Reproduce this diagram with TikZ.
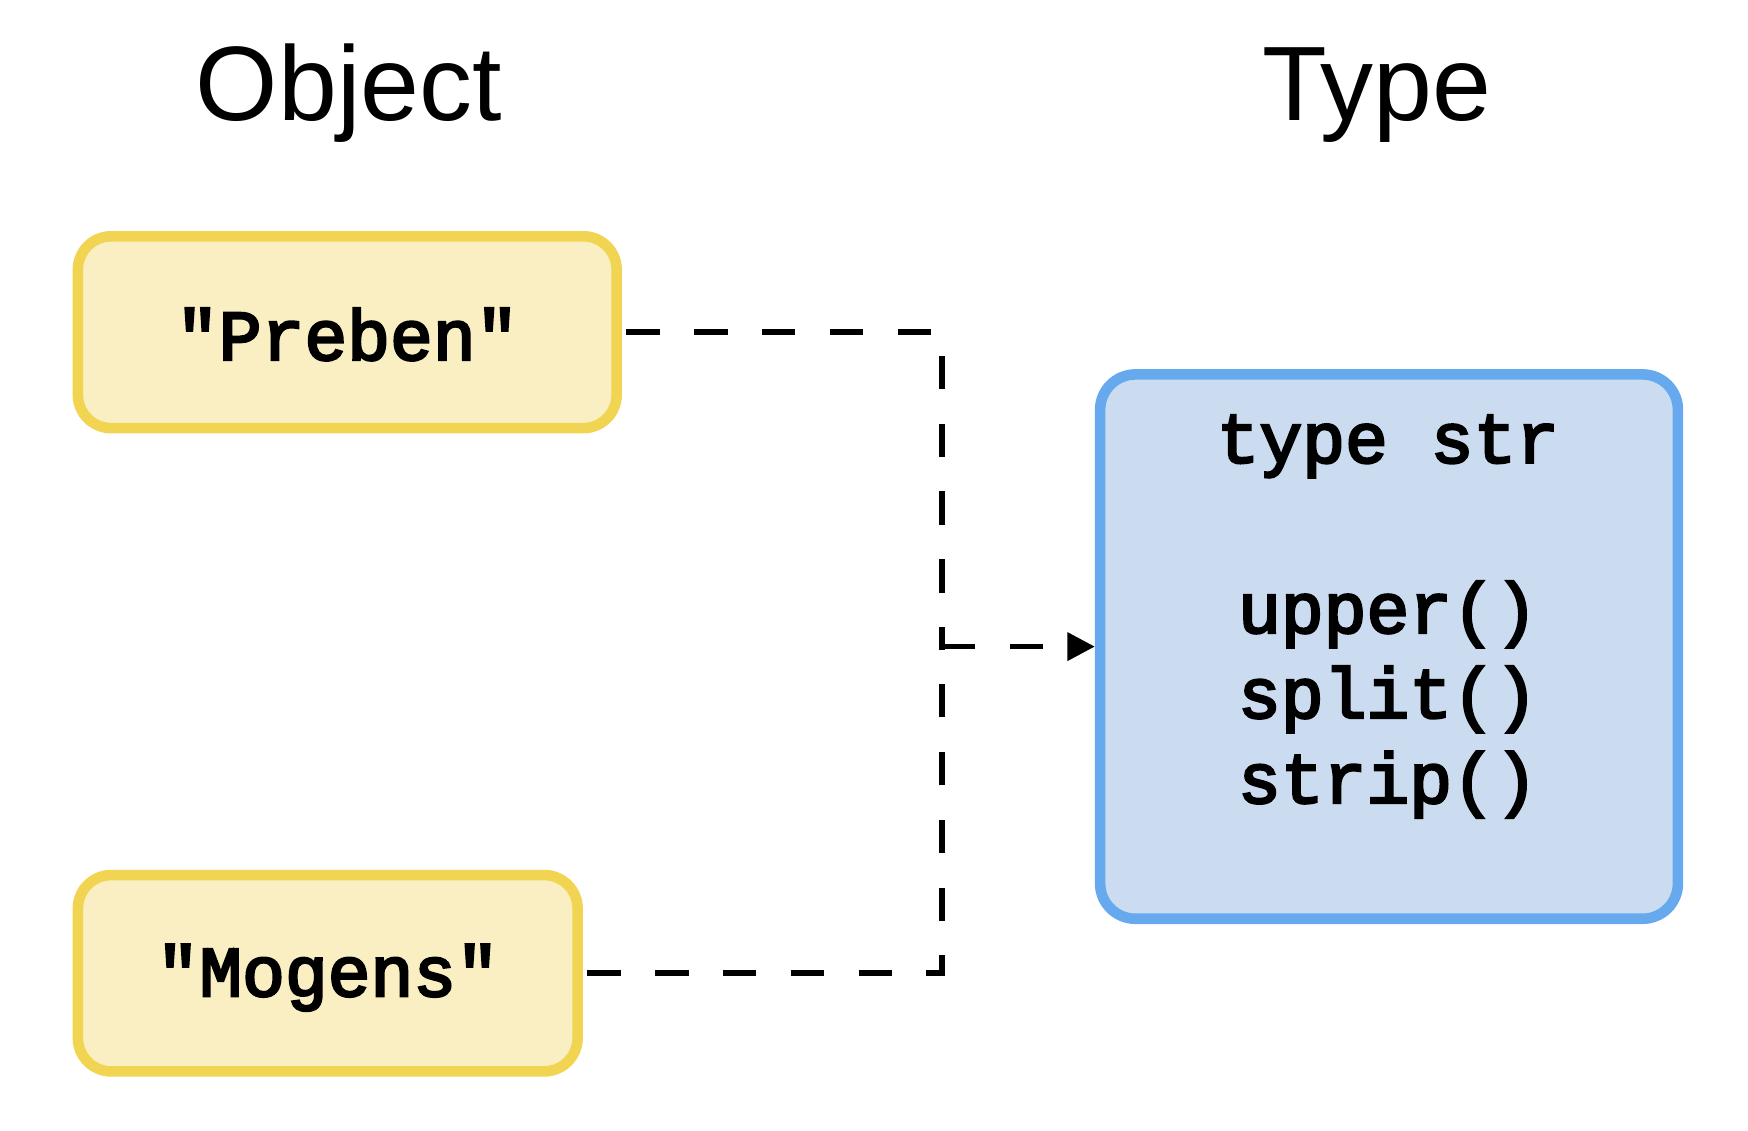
\documentclass[tikz,border=0pt]{standalone}
\usepackage{fontspec}
\setmainfont{Liberation Sans}
\newfontfamily\codefont[FakeBold=3.5]{Liberation Mono}
\usetikzlibrary{arrows.meta}
\definecolor{yfill}{HTML}{FAEFC2}
\definecolor{ydraw}{HTML}{F1D452}
\definecolor{bfill}{HTML}{CBDCF0}
\definecolor{bdraw}{HTML}{67A9EE}
\tikzset{
  objbox/.style={draw=ydraw, fill=yfill, line width=2.7pt, rounded corners=8.5pt, inner sep=0pt},
  typebox/.style={draw=bdraw, fill=bfill, line width=2.7pt, rounded corners=9pt, inner sep=0pt},
  monotext/.style={font=\codefont\fontsize{18.2}{21.7}\selectfont, inner sep=0pt},
  title/.style={font=\fontsize{27}{30}\selectfont, inner sep=0pt, anchor=base},
  link/.style={line width=1.4pt, dash pattern=on 8.5pt off 8.8pt},
}
\begin{document}
\begin{tikzpicture}[x=0.01cm, y=-0.01cm]
\useasboundingbox (0,0) rectangle (1568,1014);
\node[title] (tobj) at (313,108) {Object};
\node[title] (ttype) at (1235,108) {Type};
\node[objbox, minimum width=4.83cm, minimum height=1.72cm] (preben) at (311.5,298) {};
\node[monotext] (prebent) at (311.5,300) {"Preben"};
\node[objbox, minimum width=4.48cm, minimum height=1.76cm] (mogens) at (294,873) {};
\node[monotext] (mogenst) at (294,877) {"Mogens"};
\node[typebox, minimum width=5.18cm, minimum height=4.88cm] (type) at (1246,580) {};
\node[monotext, align=center] (typet) at (1245,553) {type str\\[21.7pt]upper()\\split()\\strip()};
\coordinate (j) at (845,580);
\draw[link] (preben.east) ++(4,0) -| (j);
\draw[link] (mogens.east) ++(4,0) -| (j);
\draw[link, -{Triangle[length=7pt, width=7pt]}] (j) -- (type.west);
\end{tikzpicture}
\end{document}
